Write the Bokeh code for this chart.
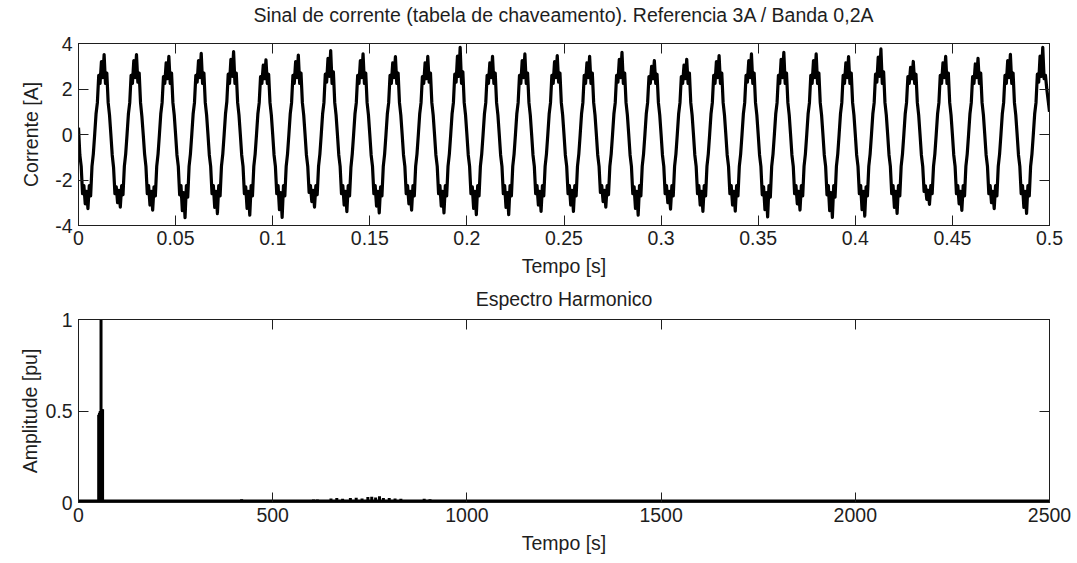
from bokeh.plotting import figure
from bokeh.models import Range1d, FixedTicker, LinearAxis
from bokeh.layouts import column
from bokeh.embed import file_html
from bokeh.resources import INLINE
import numpy as np

FONT = "Liberation Sans"
FS = "19.5px"
INK = "#1e1e1e"

# ---------------- data ----------------
# current signal, one row per 60 Hz cycle, 24 samples per cycle (1440 samples/s)
sample_rate = 1440.0
current_rows = [
    [0.3, -0.9, -1.4, -2.6, -2.25, -3.05, -2.5, -3.26, -2.25, -2.7, -1.4, -0.85, 0.0, 0.9, 1.4, 2.6, 2.25, 3.2, 2.5, 3.51, 2.25, 2.7, 1.4, 0.85],
    [0.0, -0.9, -1.45, -2.6, -2.3, -3.0, -2.45, -3.19, -2.25, -2.65, -1.4, -0.85, 0.0, 0.9, 1.4, 2.6, 2.25, 3.25, 2.5, 3.51, 2.3, 2.7, 1.4, 0.8],
    [0.0, -0.85, -1.4, -2.6, -2.25, -3.1, -2.5, -3.33, -2.3, -2.7, -1.4, -0.85, 0.0, 0.9, 1.4, 2.55, 2.25, 3.15, 2.45, 3.44, 2.25, 2.7, 1.4, 0.85],
    [0.0, -0.9, -1.4, -2.65, -2.25, -3.35, -2.55, -3.66, -2.25, -2.75, -1.4, -0.85, 0.0, 0.9, 1.4, 2.6, 2.3, 3.25, 2.5, 3.57, 2.25, 2.7, 1.4, 0.85],
    [0.0, -0.9, -1.4, -2.6, -2.25, -3.2, -2.5, -3.48, -2.25, -2.7, -1.4, -0.85, 0.0, 0.9, 1.45, 2.65, 2.25, 3.3, 2.55, 3.64, 2.25, 2.7, 1.4, 0.85],
    [0.0, -0.9, -1.4, -2.6, -2.3, -3.25, -2.5, -3.55, -2.25, -2.7, -1.4, -0.85, 0.0, 0.9, 1.4, 2.55, 2.25, 3.05, 2.45, 3.28, 2.25, 2.65, 1.4, 0.85],
    [0.0, -0.9, -1.4, -2.6, -2.25, -3.3, -2.55, -3.64, -2.25, -2.7, -1.4, -0.85, 0.0, 0.9, 1.4, 2.6, 2.25, 3.2, 2.5, 3.49, 2.25, 2.7, 1.4, 0.85],
    [0.0, -0.9, -1.4, -2.55, -2.25, -2.95, -2.45, -3.19, -2.25, -2.65, -1.4, -0.85, 0.0, 0.9, 1.4, 2.65, 2.3, 3.35, 2.55, 3.69, 2.25, 2.75, 1.4, 0.85],
    [0.0, -0.9, -1.4, -2.6, -2.25, -3.1, -2.5, -3.39, -2.25, -2.7, -1.45, -0.85, 0.0, 0.9, 1.4, 2.6, 2.25, 3.25, 2.5, 3.55, 2.25, 2.7, 1.4, 0.85],
    [0.0, -0.9, -1.4, -2.6, -2.25, -3.15, -2.5, -3.45, -2.3, -2.7, -1.4, -0.85, 0.0, 0.9, 1.4, 2.6, 2.25, 3.15, 2.5, 3.42, 2.25, 2.7, 1.4, 0.85],
    [0.0, -0.9, -1.4, -2.6, -2.25, -3.05, -2.5, -3.33, -2.25, -2.7, -1.4, -0.85, 0.0, 0.9, 1.4, 2.55, 2.25, 3.15, 2.45, 3.43, 2.3, 2.7, 1.4, 0.85],
    [0.0, -0.9, -1.4, -2.6, -2.25, -3.15, -2.5, -3.45, -2.25, -2.7, -1.4, -0.85, 0.0, 0.9, 1.4, 2.65, 2.3, 3.45, 2.55, 3.83, 2.25, 2.75, 1.4, 0.85],
    [0.0, -0.9, -1.4, -2.6, -2.3, -3.25, -2.5, -3.52, -2.25, -2.7, -1.4, -0.85, 0.0, 0.9, 1.4, 2.6, 2.25, 3.15, 2.5, 3.44, 2.25, 2.7, 1.4, 0.85],
    [0.0, -0.9, -1.4, -2.6, -2.25, -3.2, -2.55, -3.52, -2.25, -2.7, -1.4, -0.85, 0.0, 0.9, 1.4, 2.6, 2.25, 3.25, 2.5, 3.54, 2.25, 2.7, 1.4, 0.85],
    [0.0, -0.9, -1.4, -2.6, -2.25, -3.1, -2.5, -3.38, -2.25, -2.7, -1.4, -0.85, 0.0, 0.9, 1.4, 2.6, 2.25, 3.2, 2.5, 3.47, 2.3, 2.7, 1.4, 0.85],
    [0.0, -0.9, -1.4, -2.6, -2.25, -3.1, -2.45, -3.38, -2.25, -2.7, -1.4, -0.85, 0.0, 0.9, 1.4, 2.6, 2.25, 3.15, 2.5, 3.44, 2.25, 2.7, 1.4, 0.85],
    [0.0, -0.9, -1.4, -2.55, -2.25, -2.95, -2.45, -3.19, -2.25, -2.65, -1.4, -0.85, 0.0, 0.9, 1.4, 2.6, 2.3, 3.3, 2.5, 3.61, 2.25, 2.7, 1.4, 0.85],
    [0.0, -0.9, -1.4, -2.6, -2.3, -3.25, -2.5, -3.55, -2.25, -2.7, -1.4, -0.85, 0.0, 0.9, 1.4, 2.55, 2.25, 3.0, 2.45, 3.25, 2.25, 2.65, 1.4, 0.85],
    [0.0, -0.9, -1.4, -2.6, -2.25, -3.0, -2.5, -3.28, -2.25, -2.7, -1.4, -0.85, 0.0, 0.9, 1.4, 2.55, 2.25, 3.05, 2.45, 3.30, 2.25, 2.7, 1.4, 0.85],
    [0.0, -0.9, -1.4, -2.6, -2.25, -3.1, -2.5, -3.38, -2.25, -2.7, -1.4, -0.85, 0.0, 0.9, 1.4, 2.6, 2.25, 3.2, 2.5, 3.47, 2.25, 2.7, 1.4, 0.85],
    [0.0, -0.9, -1.4, -2.6, -2.25, -3.1, -2.5, -3.37, -2.25, -2.7, -1.4, -0.85, 0.0, 0.9, 1.4, 2.6, 2.3, 3.25, 2.5, 3.54, 2.25, 2.7, 1.4, 0.85],
    [0.0, -0.9, -1.4, -2.65, -2.3, -3.3, -2.55, -3.62, -2.25, -2.75, -1.4, -0.85, 0.0, 0.9, 1.4, 2.6, 2.25, 3.3, 2.5, 3.61, 2.25, 2.7, 1.4, 0.85],
    [0.0, -0.9, -1.4, -2.6, -2.25, -3.05, -2.5, -3.32, -2.25, -2.7, -1.4, -0.85, 0.0, 0.9, 1.4, 2.6, 2.25, 3.25, 2.5, 3.54, 2.25, 2.7, 1.4, 0.85],
    [0.0, -0.9, -1.4, -2.65, -2.25, -3.35, -2.55, -3.64, -2.25, -2.75, -1.4, -0.85, 0.0, 0.9, 1.4, 2.6, 2.25, 3.15, 2.5, 3.42, 2.25, 2.7, 1.4, 0.85],
    [0.0, -0.9, -1.4, -2.6, -2.25, -3.3, -2.5, -3.59, -2.3, -2.7, -1.4, -0.85, 0.0, 0.9, 1.4, 2.65, 2.3, 3.4, 2.55, 3.76, 2.25, 2.75, 1.4, 0.85],
    [0.0, -0.9, -1.4, -2.6, -2.25, -3.2, -2.5, -3.47, -2.25, -2.7, -1.4, -0.85, 0.0, 0.9, 1.4, 2.55, 2.25, 2.95, 2.45, 3.21, 2.25, 2.65, 1.4, 0.85],
    [0.0, -0.9, -1.4, -2.5, -2.25, -2.85, -2.45, -3.07, -2.25, -2.6, -1.4, -0.85, 0.0, 0.9, 1.4, 2.6, 2.25, 3.15, 2.5, 3.44, 2.25, 2.7, 1.4, 0.85],
    [0.0, -0.9, -1.4, -2.6, -2.25, -3.05, -2.5, -3.34, -2.25, -2.7, -1.4, -0.85, 0.0, 0.9, 1.4, 2.55, 2.25, 3.1, 2.5, 3.35, 2.25, 2.7, 1.4, 0.85],
    [0.0, -0.9, -1.4, -2.6, -2.25, -3.0, -2.5, -3.26, -2.25, -2.7, -1.4, -0.85, 0.0, 0.9, 1.4, 2.6, 2.25, 3.25, 2.5, 3.52, 2.25, 2.7, 1.4, 0.85],
    [0.0, -0.9, -1.4, -2.6, -2.25, -3.2, -2.5, -3.47, -2.25, -2.7, -1.4, -0.85, 0.0, 0.9, 1.4, 2.65, 2.3, 3.45, 2.55, 3.83, 2.45, 2.6, 2.0, 1.5],
]
current_end = [1.0]

# harmonic spectrum
harm_freq = [52, 54, 56, 58, 60, 62]
harm_amp = [0.48, 0.49, 0.50, 1.00, 0.51, 0.51]
noise_freq = [420, 605, 615, 650, 665, 680, 700, 715, 730, 745, 755, 765, 775, 785, 800, 815, 830, 890, 905]
noise_amp = [0.018, 0.016, 0.017, 0.022, 0.024, 0.020, 0.024, 0.026, 0.022, 0.030, 0.032, 0.028, 0.034, 0.025, 0.024, 0.022, 0.020, 0.020, 0.018]
floor_freq = [0, 2500]
floor_amp = [0.008, 0.008]

# axes ticks / labels
time_ticks = [0, 0.05, 0.1, 0.15, 0.2, 0.25, 0.3, 0.35, 0.4, 0.45, 0.5]
time_labels = ["0", "0.05", "0.1", "0.15", "0.2", "0.25", "0.3", "0.35", "0.4", "0.45", "0.5"]
cur_ticks = [-4, -2, 0, 2, 4]
cur_labels = ["-4", "-2", "0", "2", "4"]
freq_ticks = [0, 500, 1000, 1500, 2000, 2500]
freq_labels = ["0", "500", "1000", "1500", "2000", "2500"]
amp_ticks = [0, 0.5, 1]
amp_labels = ["0", "0.5", "1"]

title_top = "Sinal de corrente (tabela de chaveamento). Referencia 3A / Banda 0,2A"
title_bottom = "Espectro Harmonico"
xlabel = "Tempo [s]"
ylabel_top = "Corrente [A]"
ylabel_bottom = "Amplitude [pu]"

# ---------------- build ----------------
cur_values = np.concatenate([np.array(current_rows).ravel(), current_end])
cur_time = np.arange(len(cur_values)) / sample_rate


def style(p, xt, xl, yt, yl, xlab, ylab, title, title_gap, ylab_standoff):
    p.grid.visible = False
    p.outline_line_color = INK
    p.outline_line_width = 1
    p.background_fill_color = "white"
    p.border_fill_color = "white"

    xa = p.xaxis[0]
    ya = p.yaxis[0]
    xa.ticker = FixedTicker(ticks=xt)
    ya.ticker = FixedTicker(ticks=yt)
    xa.major_label_overrides = dict(zip(xt, xl))
    ya.major_label_overrides = dict(zip(yt, yl))
    xa.axis_label = xlab
    ya.axis_label = ylab

    top = LinearAxis(ticker=FixedTicker(ticks=xt))
    right = LinearAxis(ticker=FixedTicker(ticks=yt))
    p.add_layout(top, "above")
    p.add_layout(right, "right")
    # the title is carried by the top axis label (centred over the frame)
    top.axis_label = title
    top.axis_label_standoff = title_gap

    for ax in (xa, ya, top):
        ax.axis_label_text_font = FONT
        ax.axis_label_text_font_size = FS
        ax.axis_label_text_font_style = "normal"
        ax.axis_label_text_color = INK
    for ax in (xa, ya):
        ax.major_label_text_font = FONT
        ax.major_label_text_font_size = FS
        ax.major_label_text_color = INK
    xa.major_label_standoff = 5
    ya.major_label_standoff = 6
    xa.axis_label_standoff = 7
    ya.axis_label_standoff = ylab_standoff

    for ax in (xa, ya, top, right):
        ax.axis_line_color = INK
        ax.major_tick_line_color = INK
        ax.major_tick_in = 10
        ax.major_tick_out = 0
        ax.minor_tick_line_color = None
    for ax in (top, right):
        ax.major_label_text_color = None
        ax.major_label_text_font_size = "1px"
        ax.major_label_standoff = 0


p1 = figure(width=1077, height=283, x_range=Range1d(0, 0.5), y_range=Range1d(-4, 4),
            output_backend="svg", toolbar_location=None,
            min_border_left=78, min_border_right=28, min_border_top=43, min_border_bottom=58)
style(p1, time_ticks, time_labels, cur_ticks, cur_labels, xlabel, ylabel_top, title_top, 18, 10)
p1.line(cur_time, cur_values, line_width=3.2, line_color="black", line_join="round")

p2 = figure(width=1077, height=280, x_range=Range1d(0, 2500), y_range=Range1d(0, 1),
            output_backend="svg", toolbar_location=None,
            min_border_left=78, min_border_right=28, min_border_top=36, min_border_bottom=61)
style(p2, freq_ticks, freq_labels, amp_ticks, amp_labels, xlabel, ylabel_bottom, title_bottom, 10, 1)
p2.line(floor_freq, floor_amp, line_width=3, line_color="black")
p2.segment(x0=harm_freq, y0=[0] * len(harm_freq), x1=harm_freq, y1=harm_amp,
           line_width=3, line_color="black")
p2.segment(x0=noise_freq, y0=[0] * len(noise_freq), x1=noise_freq, y1=noise_amp,
           line_width=3, line_color="black")

layout = column(p1, p2, spacing=0)
open("out.html", "w").write(file_html(layout, INLINE))
